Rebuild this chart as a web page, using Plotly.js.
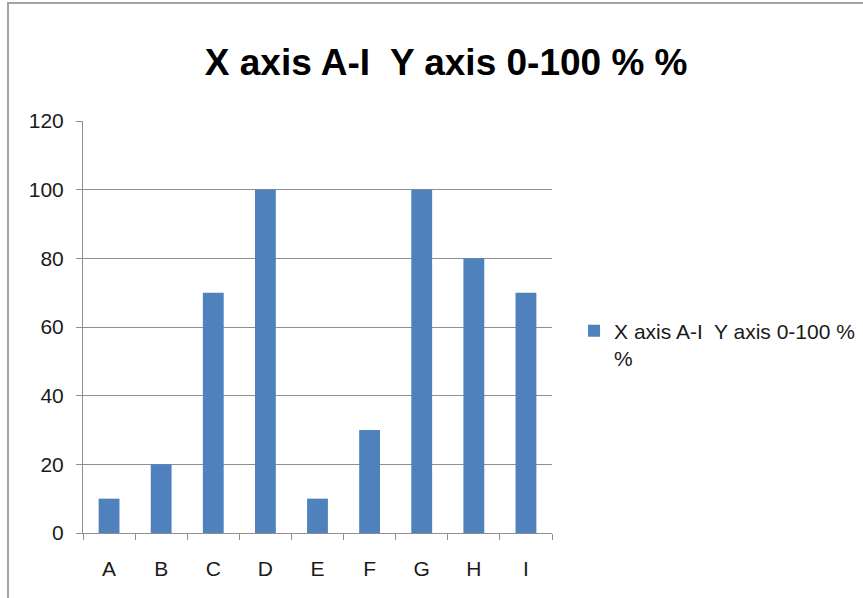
<!DOCTYPE html>
<html>
<head>
<meta charset="utf-8">
<script src="https://cdn.plot.ly/plotly-3.0.1.min.js"></script>
<style>
  html, body { margin: 0; padding: 0; background: #ffffff; }
  #chart { width: 863px; height: 598px; }
</style>
</head>
<body>
<div id="chart"></div>
<script>
const chartTitle = "X axis A-I\u00A0 Y axis 0-100 % %";
const seriesName = "X axis A-I\u00A0 Y axis 0-100 %<br>%";
const categories = ["A", "B", "C", "D", "E", "F", "G", "H", "I"];
const values = [10, 20, 70, 100, 10, 30, 100, 80, 70];
const yTicks = [0, 20, 40, 60, 80, 100, 120];

const gridColor = "#8f8f8f";
const font = "Liberation Sans, Arial, sans-serif";

const trace = {
  type: "bar",
  x: categories,
  y: values,
  name: seriesName,
  marker: { color: "#4f81bd" },
  width: 0.4,
  showlegend: true,
  hoverinfo: "x+y"
};

const layout = {
  width: 863,
  height: 598,
  paper_bgcolor: "#ffffff",
  plot_bgcolor: "#ffffff",
  margin: { l: 83, r: 311, t: 121, b: 65, autoexpand: false },
  title: {
    text: chartTitle,
    font: { family: font, size: 37, color: "#000000", weight: "bold" },
    x: 0.517, xref: "container", xanchor: "center",
    y: 1 - 62 / 598, yref: "container", yanchor: "middle"
  },
  showlegend: true,
  legend: {
    x: 1.047, xanchor: "left",
    y: 0.54, yanchor: "top",
    valign: "top",
    font: { family: font, size: 21, color: "#1a1a1a" },
    bgcolor: "rgba(0,0,0,0)"
  },
  xaxis: {
    type: "category",
    categoryorder: "array",
    categoryarray: categories,
    showgrid: false,
    showline: true,
    linecolor: gridColor,
    linewidth: 1,
    ticks: "outside",
    tickson: "boundaries",
    ticklen: 6,
    tickcolor: gridColor,
    tickfont: { family: font, size: 21, color: "#1a1a1a" },
    ticklabelstandoff: 17,
    zeroline: false
  },
  yaxis: {
    range: [0, 120],
    tickmode: "array",
    tickvals: yTicks,
    ticktext: yTicks.map(String),
    showgrid: true,
    gridcolor: gridColor,
    gridwidth: 1,
    showline: true,
    linecolor: gridColor,
    linewidth: 1,
    ticks: "outside",
    ticklen: 6,
    tickcolor: gridColor,
    tickfont: { family: font, size: 21, color: "#1a1a1a" },
    ticklabelstandoff: 8,
    zeroline: false
  },
  shapes: [
    {
      type: "rect", xref: "paper", yref: "paper",
      x0: (8 - 83) / 469, x1: (900 - 83) / 469,
      y0: (533 - 640) / 412, y1: (533 - 3) / 412,
      line: { color: "#a3a3a3", width: 2 },
      fillcolor: "rgba(0,0,0,0)",
      layer: "below"
    }
  ]
};

Plotly.newPlot("chart", [trace], layout, { displayModeBar: false, staticPlot: true });
</script>
</body>
</html>
